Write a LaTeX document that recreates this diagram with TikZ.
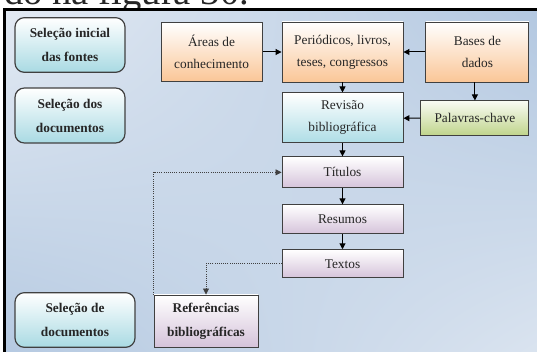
\documentclass[tikz,border=0pt]{standalone}
\usepackage{fontspec}
\setmainfont{Liberation Serif}
\usetikzlibrary{arrows.meta,positioning,shadings}
\definecolor{bgpale}{HTML}{E3EAF3}
\definecolor{bgblue}{HTML}{AFC5DF}
\definecolor{stagecyan}{HTML}{A9DAE3}
\definecolor{peach}{HTML}{FAC697}
\definecolor{reviewcyan}{HTML}{AEDDE6}
\definecolor{keygreen}{HTML}{BFD48A}
\definecolor{lavender}{HTML}{D5C3DA}

\begin{document}
\begin{tikzpicture}[
    x=0.75pt, y=-0.75pt,
    every node/.style={font=\fontsize{10}{16.5}\selectfont, text=black!85},
    stage/.style={draw=black!75, line width=0.9pt, rounded corners=7pt, align=center, top color=white, bottom color=stagecyan, minimum width=82.5pt, minimum height=41pt, font=\bfseries\fontsize{10}{18}\selectfont},
    source/.style={draw=black!75, line width=0.7pt, align=center, top color=white, bottom color=peach, minimum height=45pt},
    review/.style={draw=black!75, line width=0.7pt, align=center, top color=white, bottom color=reviewcyan, minimum width=90.75pt, minimum height=37.5pt},
    keyword/.style={draw=black!75, line width=0.7pt, align=center, top color=white!90!keygreen, bottom color=keygreen, minimum width=81pt, minimum height=26.25pt},
    filter/.style={draw=black!75, line width=0.7pt, align=center, top color=white, bottom color=lavender, minimum width=90.75pt},
    flow/.style={-{Triangle[length=4.5pt, width=4.5pt]}, line width=0.75pt},
    back/.style={-{Triangle[length=4.5pt, width=4.5pt]}, densely dotted, line width=0.6pt, black!75}
]
\useasboundingbox (0,0) rectangle (537,352);
\node[anchor=base west, font=\fontsize{29}{29}\selectfont, inner sep=0pt] (caption) at (4,4.5) {do na figura 30.};
\draw[line width=2.4pt, upper left=bgpale, upper right=bgblue, lower left=bgblue, lower right=bgpale] (4.5,9.5) rectangle (580,400);

% etapas
\node[stage] (initial) at (70,45) {Seleção inicial\\das fontes};
\node[stage, minimum height=41.25pt] (chosen) at (70,115.5) {Seleção dos\\documentos};
\node[stage, minimum width=90pt] (final) at (75,320) {Seleção de\\documentos};

% fontes
\node[source, minimum width=90.75pt] (journals) at (342.5,52) {Periódicos, livros,\\teses, congressos};
\node[source, minimum width=75.75pt, minimum height=44.25pt, left=14.25pt of journals] (areas) {Áreas de\\conhecimento};
\node[source, minimum width=77.25pt, right=16.5pt of journals] (databases) {Bases de\\dados};
\node[review, below=7.5pt of journals] (review) {Revisão\\bibliográfica};
\node[keyword, below=13.5pt of databases, xshift=-1.9pt] (keywords) {Palavras-chave};

% filtros
\node[filter, minimum height=23.25pt, below=9.75pt of review] (titles) {Títulos};
\node[filter, minimum height=21.75pt, below=12pt of titles] (abstracts) {Resumos};
\node[filter, minimum height=21pt, below=11.25pt of abstracts] (texts) {Textos};
\node[filter, minimum width=78pt, minimum height=39pt, font=\bfseries\fontsize{10}{18}\selectfont] (references) at (206,321) {Referências\\bibliográficas};

\draw[flow] (areas) -- (journals);
\draw[flow] (databases) -- (journals);
\draw[flow] (journals) -- (review);
\draw[flow] (databases.south -| keywords.north) -- (keywords);
\draw[flow] (keywords) -- (review);
\draw[flow] (review) -- (titles);
\draw[flow] (titles) -- (abstracts);
\draw[flow] (abstracts) -- (texts);
\draw[back] (references.north west) |- (titles.west);
\draw[back] (texts.west) -| (references.north);
\end{tikzpicture}
\end{document}
